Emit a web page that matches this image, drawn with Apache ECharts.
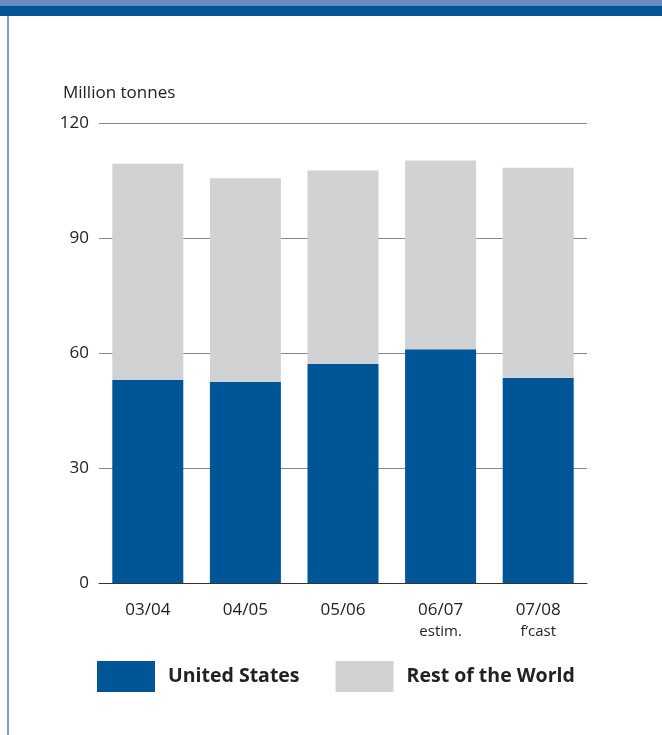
<!DOCTYPE html>
<html>
<head>
<meta charset="utf-8">
<script src="https://cdn.jsdelivr.net/npm/echarts@6/dist/echarts.min.js"></script>
<style>
  html, body { margin: 0; padding: 0; background: #fff; }
  #chart { width: 662px; height: 735px; }
</style>
</head>
<body>
<div id="chart"></div>
<script>
// seasons and notes under them
var seasons = ['03/04', '04/05', '05/06', '06/07', '07/08'];
var notes = ['', '', '', 'estim.', 'f\u2019cast'];
// million tonnes
var usValues = [53.0, 52.5, 57.1, 61.0, 53.5];
var restValues = [56.4, 53.1, 50.5, 49.2, 54.8];
var yTicks = [0, 30, 60, 90, 120];

var blue = '#005597';
var grey = '#d1d2d4';
var font = '"Open Sans", "Noto Sans", sans-serif';

var labels = seasons.map(function (s, i) {
    return notes[i] ? s + '\n' + notes[i] : s;
});

var chart = echarts.init(document.getElementById('chart'));
chart.setOption({
    animation: false,
    textStyle: { fontFamily: font },
    graphic: [
        { type: 'rect', left: 0, top: 0, shape: { width: 662, height: 6 }, style: { fill: '#6a8bbf' } },
        { type: 'rect', left: 0, top: 6, shape: { width: 662, height: 10 }, style: { fill: '#005597' } },
        { type: 'rect', left: 7, top: 16, shape: { width: 2, height: 719 }, style: { fill: '#7f9db8' } },
        { type: 'text', left: 63, top: 85, style: { text: 'Million tonnes', fill: '#222', font: '17px ' + font } }
    ],
    legend: {
        left: 97,
        top: 661,
        padding: 0,
        itemWidth: 58,
        itemHeight: 31,
        itemGap: 36,
        icon: 'rect',
        selectedMode: false,
        textStyle: { fontSize: 19.5, fontWeight: 'bold', color: '#222', padding: [0, 0, 0, 8] },
        data: ['United States', 'Rest of the World']
    },
    grid: { left: 99, right: 75, top: 123, bottom: 152 },
    xAxis: {
        type: 'category',
        data: labels,
        axisLine: { lineStyle: { color: '#333', width: 1 } },
        axisTick: { show: false },
        axisLabel: {
            interval: 0,
            hideOverlap: false,
            margin: 16,
            color: '#222',
            fontSize: 17,
            lineHeight: 22,
            formatter: function (v) {
                var p = v.split('\n');
                return p.length > 1 ? p[0] + '\n{n|' + p[1] + '}' : p[0];
            },
            rich: { n: { fontSize: 15, lineHeight: 22, color: '#222' } }
        }
    },
    yAxis: {
        type: 'value',
        min: yTicks[0],
        max: yTicks[yTicks.length - 1],
        interval: 30,
        axisLine: { show: false },
        axisTick: { show: false },
        axisLabel: { margin: 10, color: '#222', fontSize: 17 },
        splitLine: { lineStyle: { color: '#888', width: 1 } }
    },
    series: [
        {
            name: 'United States',
            type: 'bar',
            stack: 'total',
            barWidth: 71,
            itemStyle: { color: blue },
            data: usValues
        },
        {
            name: 'Rest of the World',
            type: 'bar',
            stack: 'total',
            barWidth: 71,
            itemStyle: { color: grey },
            data: restValues
        }
    ]
});
</script>
</body>
</html>
